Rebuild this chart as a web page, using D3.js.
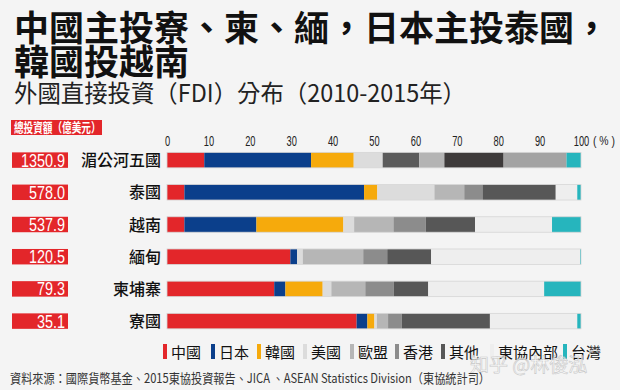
<!DOCTYPE html>
<html><head><meta charset="utf-8">
<script src="https://cdn.jsdelivr.net/npm/d3@7/dist/d3.min.js"></script>
<style>
html,body{margin:0;padding:0;background:#f4f4f4;}
svg{display:block;font-family:"Noto Sans CJK TC","Noto Sans",sans-serif;}
</style></head>
<body>
<svg id="chart" width="620" height="390"></svg>
<script>
// ---- data ----
const categories = ["湄公河五國","泰國","越南","緬甸","柬埔寨","寮國"];
const totals = ["1350.9","578.0","537.9","120.5","79.3","35.1"];
const seriesNames = ["中國","日本","韓國","美國","歐盟","香港","其他","東協內部","台灣"];
const china   = [9.0, 4.2, 4.2, 29.8, 25.9, 45.8];
const japan   = [25.8, 43.4, 17.4, 1.6, 2.7, 2.6];
const korea   = [10.3, 3.2, 21.0, 0.0, 9.0, 1.7];
const usa     = [7.0, 13.8, 2.6, 1.4, 2.1, 0.6];
const eu      = [8.8, 7.2, 9.5, 14.6, 8.2, 2.7];
const hongkong= [6.1, 4.4, 7.8, 5.8, 6.9, 3.3];
const others  = [14.3, 17.7, 11.9, 10.6, 8.3, 21.3];
const asean   = [15.2, 5.2, 18.6, 36.0, 28.0, 21.1];
const taiwan  = [3.5, 0.9, 7.0, 0.2, 8.9, 0.9];
const tickValues = [0,10,20,30,40,50,60,70,80,90,100];

// ---- styles ----
const colors = ["#e3262a","#0b3f8b","#f6aa0c","#dcdcdc","#b6b6b6","#8c8c8c","#575757","#eeeeee","#26b5bd"];
const firstRowColors = ["#e3262a","#0b3f8b","#f6aa0c","#dcdcdc","#5b5b5b","#b4b4b4","#3e3b3b","#a3a3a3","#26b5bd"];

const seriesValues = [china, japan, korea, usa, eu, hongkong, others, asean, taiwan];
const table = categories.map((c,i)=>{
  const row = {category:c, total:totals[i]};
  seriesNames.forEach((s,j)=>row[s]=seriesValues[j][i]);
  return row;
});

const svg = d3.select("#chart");
svg.append("rect").attr("width",620).attr("height",390).attr("fill","#f4f4f4");

function condense(sel, ratio){
  sel.each(function(){
    const w=this.getComputedTextLength();
    this.setAttribute("textLength", (w*ratio).toFixed(1));
    this.setAttribute("lengthAdjust","spacingAndGlyphs");
  });
}

// ---- titles ----
svg.append("text").attr("x",14).attr("y",41).attr("font-size",35).attr("font-weight",700)
  .attr("fill","#111").text("中國主投寮、柬、緬，日本主投泰國，");
svg.append("text").attr("x",14).attr("y",75).attr("font-size",35).attr("font-weight",700)
  .attr("fill","#111").text("韓國投越南");
svg.append("text").attr("x",14).attr("y",102).attr("font-size",24).attr("fill","#222")
  .text("外國直接投資（FDI）分布（2010-2015年）")
  .attr("textLength",452).attr("lengthAdjust","spacingAndGlyphs");

// label box
svg.append("rect").attr("x",11).attr("y",120).attr("width",91).attr("height",15).attr("fill","#e3262a");
svg.append("text").attr("x",14).attr("y",132).attr("font-size",13).attr("font-weight",700)
  .attr("fill","#fff").text("總投資額（億美元）").call(condense,0.74);

// ---- scales ----
const x = d3.scaleLinear().domain([0,100]).range([167,581]);
const y = d3.scaleBand().domain(categories).range([144,337.2]).paddingInner(0.52).paddingOuter(0.26);

// axis
const axis = d3.axisTop(x).tickValues(tickValues).tickSize(0).tickPadding(0);
const gAxis = svg.append("g").attr("transform","translate(0,146)").call(axis);
gAxis.select(".domain").remove();
gAxis.selectAll("text").attr("font-size",15).attr("fill","#222")
  .attr("font-family","Liberation Sans, Arial, sans-serif").call(condense,0.62);
svg.append("text").attr("x",593).attr("y",145).attr("font-size",13).attr("fill","#222")
  .attr("font-family","Liberation Sans, Arial, sans-serif")
  .text("( % )").attr("textLength",22).attr("lengthAdjust","spacingAndGlyphs");

// stack
const stack = d3.stack().keys(seriesNames);
const stacked = stack(table);

const gBars = svg.append("g");
stacked.forEach((layer, j)=>{
  gBars.selectAll(null).data(layer).enter().append("rect")
    .attr("x", d=>x(d[0]))
    .attr("y", d=>y(d.data.category))
    .attr("width", d=>Math.max(0, x(d[1])-x(d[0])))
    .attr("height", y.bandwidth())
    .attr("fill", (d,i)=> i===0 ? firstRowColors[j] : colors[j]);
});
// subtle outline
svg.append("g").selectAll("rect").data(table).enter().append("rect")
  .attr("x", x(0)).attr("y", d=>y(d.category))
  .attr("width", x(100)-x(0)).attr("height", y.bandwidth())
  .attr("fill","none").attr("stroke","#d6d6d6").attr("stroke-width",0.8);

// left labels
const rows = svg.append("g").selectAll("g").data(table).enter().append("g");
rows.append("rect").attr("x",12).attr("y",d=>y(d.category)).attr("width",56).attr("height",y.bandwidth())
  .attr("fill","#e3262a");
rows.append("text").attr("x",65).attr("y",d=>y(d.category)+y.bandwidth()/2+6.5)
  .attr("text-anchor","end").attr("font-size",18).attr("fill","#fff")
  .attr("font-family","Liberation Sans, Arial, sans-serif")
  .text(d=>d.total).call(condense,0.8);
rows.append("text").attr("x",161).attr("y",d=>y(d.category)+y.bandwidth()/2+6)
  .attr("text-anchor","end").attr("font-size",16).attr("font-weight",500).attr("fill","#111")
  .text(d=>d.category);

// legend
const legendX = [163,211,257,303,350,395,441,490,563];
const lg = svg.append("g").selectAll("g").data(seriesNames).enter().append("g")
  .attr("transform",(d,i)=>`translate(${legendX[i]},344)`);
lg.append("rect").attr("x",0).attr("y",0).attr("width",4).attr("height",15).attr("fill",(d,i)=>colors[i]);
lg.append("text").attr("x",8).attr("y",14).attr("font-size",15).attr("fill","#111").text(d=>d);

// watermark
svg.append("text").attr("x",470).attr("y",372).attr("font-size",19).attr("fill","#ffffff")
  .attr("fill-opacity",0.6).attr("stroke","#c8c8c8").attr("stroke-width",0.6)
  .text("知乎 @林俊泓");

// footer
svg.append("text").attr("x",10).attr("y",383).attr("font-size",13).attr("fill","#333")
  .text("資料來源：國際貨幣基金、2015東協投資報告、JICA 、ASEAN Statistics Division（東協統計司）")
  .attr("textLength",480).attr("lengthAdjust","spacingAndGlyphs");
</script>
</body></html>
